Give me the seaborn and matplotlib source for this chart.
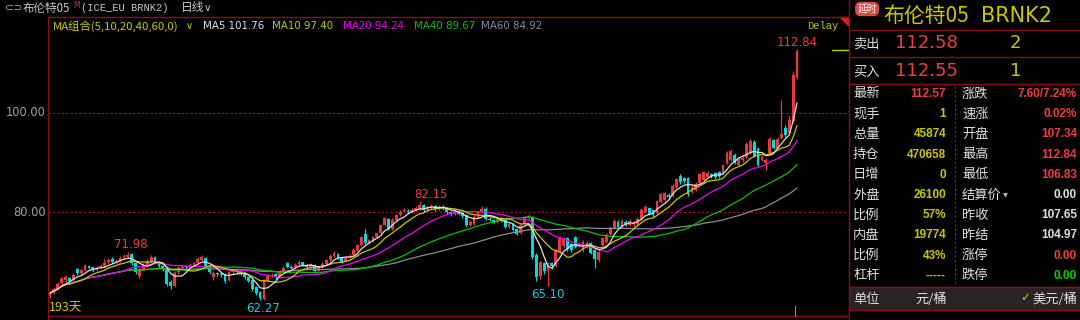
import numpy as np
import pandas as pd
import matplotlib
matplotlib.use("Agg")
import matplotlib.pyplot as plt
import seaborn as sns
from matplotlib.lines import Line2D
from matplotlib.patches import Rectangle, Polygon

# ---------------- data ----------------
opens = [63.0, 63.8, 64.5, 65.6, 66.2, 66.6, 66.2, 68.4, 67.6, 68.3,
         69.0, 68.8, 68.3, 68.8, 69.0, 69.8, 70.6, 70.0, 70.2, 70.9,
         71.0, 71.6, 69.6, 67.0, 68.5, 69.3, 69.9, 71.0, 70.0, 69.0,
         68.4, 65.8, 65.0, 67.8, 68.6, 69.0, 68.9, 69.3, 69.6, 70.4,
         70.8, 69.0, 66.8, 67.6, 67.4, 67.4, 66.2, 67.8, 68.3, 68.0,
         67.6, 66.8, 66.2, 64.8, 63.8, 62.5, 66.0, 67.0, 67.4, 66.9,
         68.0, 69.6, 68.9, 68.8, 69.4, 69.8, 69.2, 68.9, 69.2, 68.0,
         68.8, 69.5, 70.3, 71.1, 71.6, 70.8, 70.1, 70.9, 71.3, 72.4,
         73.4, 75.6, 73.8, 74.3, 75.0, 75.8, 77.4, 78.6, 76.6, 78.4,
         79.3, 80.2, 80.3, 79.9, 80.4, 80.6, 81.4, 80.5, 81.0, 81.3,
         80.7, 81.1, 80.8, 80.1, 79.5, 80.2, 79.7, 79.4, 77.4, 77.6,
         79.0, 80.0, 80.6, 78.6, 78.4, 78.0, 78.6, 78.6, 77.0, 77.6,
         76.6, 75.7, 77.5, 78.8, 78.9, 71.4, 67.0, 69.6, 68.0, 69.6,
         69.0, 72.0, 73.2, 74.7, 73.5, 75.0, 73.2, 72.3, 73.0, 73.7,
         72.3, 70.3, 73.4, 74.0, 75.5, 76.7, 78.0, 77.0, 78.0, 77.4,
         77.6, 77.5, 78.5, 80.0, 80.8, 80.5, 79.8, 82.0, 82.5, 83.5,
         83.2, 85.0, 87.2, 86.8, 86.8, 84.0, 84.5, 85.8, 86.5, 87.0,
         87.6, 87.8, 88.0, 87.8, 89.8, 90.6, 91.6, 89.5, 90.5, 91.2,
         92.0, 94.2, 92.8, 90.5, 89.8, 92.0, 94.5, 93.0, 95.0, 97.0,
         96.0, 98.3, 107.34]
closes = [63.6, 64.4, 65.4, 66.6, 66.8, 66.0, 67.2, 67.6, 68.2, 69.1,
          68.7, 68.3, 68.7, 68.9, 69.6, 70.4, 69.9, 70.2, 70.8, 71.0,
          71.4, 69.6, 67.8, 68.4, 69.2, 70.2, 71.0, 70.0, 69.0, 68.4,
          65.5, 65.0, 67.6, 68.6, 68.9, 68.8, 69.3, 69.6, 70.6, 71.0,
          69.0, 67.8, 67.6, 67.4, 67.3, 66.0, 67.8, 68.3, 68.0, 67.6,
          66.8, 66.1, 64.4, 63.6, 62.6, 66.0, 67.0, 67.3, 66.8, 67.9,
          68.6, 68.9, 68.7, 69.2, 69.9, 69.3, 68.9, 69.3, 68.0, 68.8,
          69.5, 70.3, 71.2, 71.7, 70.8, 70.0, 70.8, 71.2, 72.4, 73.3,
          74.9, 73.8, 74.3, 74.9, 75.7, 77.3, 78.7, 76.6, 78.4, 79.3,
          80.1, 80.4, 79.9, 80.5, 80.9, 81.4, 80.4, 81.0, 81.3, 80.6,
          81.1, 80.8, 80.0, 79.5, 80.2, 79.6, 79.2, 77.3, 78.0, 79.0,
          80.0, 80.6, 78.6, 78.4, 78.0, 78.6, 78.3, 77.0, 77.6, 76.4,
          75.6, 77.4, 78.8, 79.2, 71.0, 66.8, 69.8, 68.0, 69.6, 69.0,
          72.2, 74.8, 74.6, 72.5, 72.3, 73.0, 73.6, 74.0, 73.8, 71.8,
          70.5, 72.0, 74.7, 75.4, 76.8, 78.2, 77.0, 78.2, 77.5, 78.2,
          77.8, 78.6, 80.5, 81.0, 79.6, 79.3, 82.2, 83.6, 83.8, 83.0,
          85.3, 86.6, 86.0, 86.2, 83.6, 85.0, 85.6, 87.6, 88.0, 87.8,
          87.2, 87.0, 87.2, 89.4, 92.0, 92.4, 90.0, 90.8, 91.0, 93.8,
          94.4, 91.4, 89.4, 91.2, 90.6, 94.8, 93.0, 94.8, 95.8, 95.5,
          98.5, 107.7, 112.57]
highs = [64.0, 64.8, 65.8, 66.9, 67.2, 66.9, 67.6, 68.7, 68.5, 69.4,
         69.3, 69.0, 69.1, 69.4, 70.5, 70.7, 70.9, 70.5, 71.2, 71.5,
         71.98, 71.8, 70.0, 68.8, 69.6, 70.5, 71.3, 71.2, 70.2, 69.3,
         68.6, 66.2, 68.0, 69.0, 69.2, 69.3, 69.6, 70.0, 71.0, 71.4,
         71.0, 69.2, 68.0, 67.9, 67.8, 67.6, 68.1, 68.6, 68.6, 68.3,
         67.9, 67.1, 66.4, 65.0, 64.0, 66.4, 67.4, 67.6, 67.6, 68.3,
         69.0, 70.0, 69.2, 69.6, 70.3, 70.0, 69.5, 69.6, 69.4, 69.1,
         69.8, 70.6, 71.5, 72.1, 71.8, 71.0, 71.1, 71.5, 72.7, 73.6,
         75.2, 76.6, 74.6, 75.2, 76.0, 77.6, 79.0, 78.8, 78.7, 79.6,
         80.5, 80.8, 80.6, 80.9, 81.3, 82.15, 81.6, 81.3, 81.7, 81.5,
         81.5, 81.4, 81.0, 80.3, 80.5, 80.4, 79.9, 79.6, 78.3, 79.3,
         80.3, 81.2, 81.0, 78.9, 78.6, 78.9, 78.9, 78.8, 78.0, 77.8,
         76.8, 77.7, 79.1, 79.5, 79.2, 71.8, 70.2, 70.0, 70.0, 70.0,
         72.5, 75.1, 74.9, 74.9, 73.8, 75.2, 74.0, 74.3, 74.2, 73.9,
         72.5, 72.3, 75.0, 75.7, 77.1, 78.5, 78.3, 78.5, 78.3, 78.5,
         78.2, 78.9, 80.8, 81.4, 81.0, 80.7, 82.5, 83.9, 84.1, 83.8,
         85.6, 86.9, 87.6, 87.0, 87.0, 85.4, 86.0, 87.9, 88.3, 88.2,
         87.9, 88.1, 88.3, 89.7, 92.3, 92.8, 91.9, 91.1, 91.4, 94.1,
         94.8, 94.5, 93.1, 91.6, 91.0, 95.1, 94.8, 95.1, 102.6, 97.5,
         99.5, 108.5, 112.84]
lows = [62.6, 63.4, 64.2, 65.3, 65.9, 65.7, 66.0, 67.3, 67.2, 68.0,
        68.4, 67.9, 68.0, 68.5, 68.8, 69.5, 69.6, 69.7, 70.0, 70.5,
        70.7, 69.2, 67.4, 66.6, 68.2, 69.0, 69.7, 69.6, 68.6, 68.0,
        65.0, 64.5, 64.8, 67.5, 68.3, 68.5, 68.6, 69.1, 69.4, 70.2,
        68.6, 67.4, 66.3, 67.0, 66.8, 65.6, 66.0, 67.5, 67.6, 67.2,
        66.4, 65.8, 64.0, 63.2, 62.27, 62.3, 65.8, 66.8, 66.5, 66.7,
        67.8, 68.6, 68.4, 68.5, 69.1, 69.0, 68.6, 68.7, 67.7, 67.8,
        68.6, 69.3, 70.1, 70.9, 70.5, 69.7, 69.9, 70.7, 71.1, 72.2,
        73.2, 73.5, 73.5, 74.0, 74.8, 75.6, 77.2, 76.3, 76.4, 78.2,
        79.1, 79.9, 79.6, 79.7, 80.2, 80.4, 80.1, 80.3, 80.7, 80.3,
        80.4, 80.5, 79.6, 79.2, 79.3, 79.3, 78.8, 77.0, 77.1, 77.4,
        78.8, 79.8, 78.3, 78.1, 77.7, 77.8, 78.0, 76.7, 76.8, 76.1,
        75.3, 75.5, 77.3, 78.6, 70.6, 66.0, 66.5, 67.5, 65.10, 68.5,
        68.8, 71.8, 72.8, 72.2, 72.0, 72.7, 72.9, 72.0, 72.8, 71.5,
        68.6, 70.0, 73.2, 73.8, 75.3, 76.5, 76.7, 76.8, 77.2, 77.2,
        77.2, 77.3, 78.3, 79.8, 79.3, 79.0, 79.6, 81.8, 82.3, 82.7,
        83.0, 84.8, 85.7, 85.9, 83.3, 83.8, 84.3, 85.6, 86.3, 86.8,
        86.9, 86.7, 86.9, 87.6, 89.6, 90.4, 89.7, 89.3, 90.2, 91.0,
        91.8, 91.1, 89.1, 90.3, 88.5, 91.8, 92.7, 92.8, 94.8, 95.2,
        95.8, 98.0, 106.83]

ma_windows = [5, 10, 20, 40, 60]
ma_names = ["MA5", "MA10", "MA20", "MA40", "MA60"]
ma_header_values = ["101.76", "97.40", "94.24", "89.67", "84.92"]
y_ticks = [100.0, 80.0]
peak_labels = ["71.98", "82.15", "112.84"]
trough_labels = ["62.27", "65.10"]

panel_left = [("最新", "112.57"), ("现手", "1"), ("总量", "45874"), ("持仓", "470658"),
              ("日增", "0"), ("外盘", "26100"), ("比例", "57%"), ("内盘", "19774"),
              ("比例", "43%"), ("杠杆", "-----")]
panel_right = [("涨跌", "7.60/7.24%"), ("速涨", "0.02%"), ("开盘", "107.34"), ("最高", "112.84"),
               ("最低", "106.83"), ("结算价", "0.00"), ("昨收", "107.65"), ("昨结", "104.97"),
               ("涨停", "0.00"), ("跌停", "0.00")]

# ---------------- style ----------------
W, H = 1080, 320
BG = "#000000"
RED = "#e8383d"
CYAN = "#00dcdc"
YEL = "#c8c800"
TXT_RED = "#f03c3c"
DARKRED = "#8a1010"
CJK = ["Noto Sans CJK SC", "DejaVu Sans"]
MA_COLORS = ["#e0e0e0", "#c8c800", "#f000f0", "#00c400", "#8c8c8c"]

sns.set_style("dark", {"axes.facecolor": BG, "figure.facecolor": BG})
plt.rcParams["font.family"] = ["DejaVu Sans", "Noto Sans CJK SC"]

fig = plt.figure(figsize=(W / 100, H / 100), dpi=100, facecolor=BG)


def fx(x):
    return x / W


def fy(y):
    return 1 - y / H


def T(x, y, s, color, size, ha="left", family=None, weight="normal"):
    fig.text(fx(x), fy(y), s, color=color, fontsize=size, ha=ha, va="center",
             family=family or CJK, fontweight=weight)


def L(x0, y0, x1, y1, color=DARKRED, lw=1.0, ls="-"):
    fig.add_artist(Line2D([fx(x0), fx(x1)], [fy(y0), fy(y1)], color=color, lw=lw, ls=ls,
                          transform=fig.transFigure))


# ---------------- main chart ----------------
x_left, x_right, y_top, y_bot = 48, 848, 17, 316
ax = fig.add_axes([fx(x_left), fy(y_bot), (x_right - x_left) / W, (y_bot - y_top) / H])
ax.set_facecolor(BG)
for sp in ax.spines.values():
    sp.set_visible(False)
ax.set_xticks([])
ax.set_yticks([])

n = len(closes)
step = (797 - 50) / (n - 1)
ax.set_xlim(-(50 - x_left) / step, (n - 1) + (x_right - 797) / step)
ppu = 4.95
ax.set_ylim(100 - (y_bot - 113) / ppu, 100 + (113 - y_top) / ppu)

df = pd.DataFrame({"i": np.arange(n), "open": opens, "high": highs, "low": lows, "close": closes})
up = df["close"] >= df["open"]
cols = np.where(up, RED, CYAN)

for yv in y_ticks:
    ax.axhline(yv, color="#9a1a1a", lw=0.8, ls=(0, (2, 2)), zorder=1)

ax.vlines(df["i"], df["low"], df["high"], colors=cols, lw=0.9, zorder=2)
body_bottom = np.minimum(df["open"], df["close"])
body_h = np.maximum((df["close"] - df["open"]).abs(), 0.2)
ax.bar(df["i"], body_h, bottom=body_bottom, width=0.72, color=cols, linewidth=0, zorder=3)

ma_df = pd.DataFrame({"i": df["i"]})
for w, name in zip(ma_windows, ma_names):
    ma_df[name] = df["close"].rolling(w, min_periods=1).mean()
long = ma_df.melt(id_vars="i", var_name="ma", value_name="v")
sns.lineplot(data=long, x="i", y="v", hue="ma", hue_order=ma_names[::-1],
             palette=dict(zip(ma_names, MA_COLORS)), linewidth=0.9, legend=False,
             ax=ax, zorder=4)
ax.set_xlabel("")
ax.set_ylabel("")

# annotations
ann_font = "DejaVu Sans"
T(131, 245, peak_labels[0], TXT_RED, 8.5, ha="center", family=ann_font)
T(431, 194, peak_labels[1], TXT_RED, 8.5, ha="center", family=ann_font)
T(797, 42, peak_labels[2], TXT_RED, 8.5, ha="center", family=ann_font)
T(263, 309, trough_labels[0], "#20c8d8", 8.5, ha="center", family=ann_font)
T(548, 295, trough_labels[1], "#20c8d8", 8.5, ha="center", family=ann_font)
T(49, 308, "193天", YEL, 9)

# y tick labels
T(46, 113, "100.00", "#a0a0a0", 8.3, ha="right", family=ann_font)
T(46, 212, "80.00", "#a0a0a0", 8.3, ha="right", family=ann_font)

# frame lines
L(x_left, y_top, x_right, y_top)
L(x_left, y_top, x_left, y_bot + 4)
L(x_left, y_bot, x_right, y_bot)
L(849, 0, 849, H)
L(832, 50, 848, 50, color=YEL, lw=1.0)
L(795, 306, 795, 316, color="#909090", lw=0.8)
fig.add_artist(Polygon([[fx(840), fy(17)], [fx(848), fy(17)], [fx(848), fy(25)]],
                       closed=True, color="#e02020", transform=fig.transFigure))

# header row 1
T(5, 8, "⊂⊃", "#b0b0b0", 7.5, family="DejaVu Sans")
T(23, 8, "布伦特05", "#c8c8c8", 8.3)
T(73, 5, "M", "#e03030", 5.5, family="DejaVu Sans")
T(81, 8, "(ICE_EU BRNK2)", "#c8c8c8", 7.5, family="Liberation Mono")
T(181, 8, "日线", "#c8c8c8", 8.5)
T(204, 8, "∨", "#c8c8c8", 7.5, family="DejaVu Sans")

# header row 2 (MA legend)
T(53, 26, "MA组合(5,10,20,40,60,0)", YEL, 8.2)
T(186, 26, "∨", YEL, 7, family="DejaVu Sans")
ma_x = [203, 272, 343, 414, 481]
for xx, nm, val, c in zip(ma_x, ma_names, ma_header_values, MA_COLORS):
    T(xx, 26, f"{nm} {val}", c, 7.4, family="DejaVu Sans")
T(838, 26, "Delay", YEL, 7.5, ha="right", family="Liberation Mono")

# ---------------- right panel ----------------
fig.text(fx(867), fy(9), "延时", color="white", fontsize=7, ha="center", va="center",
         family=CJK, bbox=dict(boxstyle="round,pad=0.15,rounding_size=0.5",
                               fc="#e04848", ec="#e04848"))
T(883, 16, "布伦特05", YEL, 15)
T(981, 16, "BRNK2", YEL, 15, family="DejaVu Sans")
L(849, 30, W, 30)
T(853, 44, "卖出", "#e0e0e0", 9.5)
T(895, 43, "112.58", TXT_RED, 13, family="DejaVu Sans")
T(1010, 43, "2", YEL, 13, family="DejaVu Sans")
L(849, 57, W, 57)
T(853, 72, "买入", "#e0e0e0", 9.5)
T(895, 71, "112.55", TXT_RED, 13, family="DejaVu Sans")
T(1010, 71, "1", YEL, 13, family="DejaVu Sans")
L(849, 84, W, 84)

right_colors = [TXT_RED, TXT_RED, TXT_RED, TXT_RED, TXT_RED,
                "#e0e0e0", "#e0e0e0", "#e0e0e0", TXT_RED, "#00d000"]
left_colors = [TXT_RED] + [YEL] * 9
for k in range(10):
    yy = 94 + 20.2 * k
    lab, val = panel_left[k]
    T(853, yy, lab, "#e0e0e0", 9.5)
    T(946, yy, val, left_colors[k], 8.5, ha="right", family="Liberation Sans", weight="bold")
    lab, val = panel_right[k]
    T(962, yy, lab, "#e0e0e0", 9.5)
    T(1077, yy, val, right_colors[k], 8.5, ha="right", family="Liberation Sans", weight="bold")
T(1003, 194, "▾", "#b0b0b0", 7, family="DejaVu Sans")
L(955, 86, 955, 286, color="#b01818", lw=0.8, ls=(0, (2, 2)))

# unit band
fig.add_artist(Rectangle((fx(850), fy(310)), (W - 850) / W, 23 / H, color="#252525",
                         transform=fig.transFigure))
L(849, 287, W, 287)
L(849, 310, W, 310)
T(853, 299, "单位", "#e0e0e0", 9.5)
T(915, 299, "元/桶", "#e0e0e0", 9.5)
T(1020, 298, "✓", YEL, 8.5, family="DejaVu Sans")
T(1077, 299, "美元/桶", "#e0e0e0", 9.5, ha="right")

fig.savefig("out.png", dpi=100, facecolor=BG)
